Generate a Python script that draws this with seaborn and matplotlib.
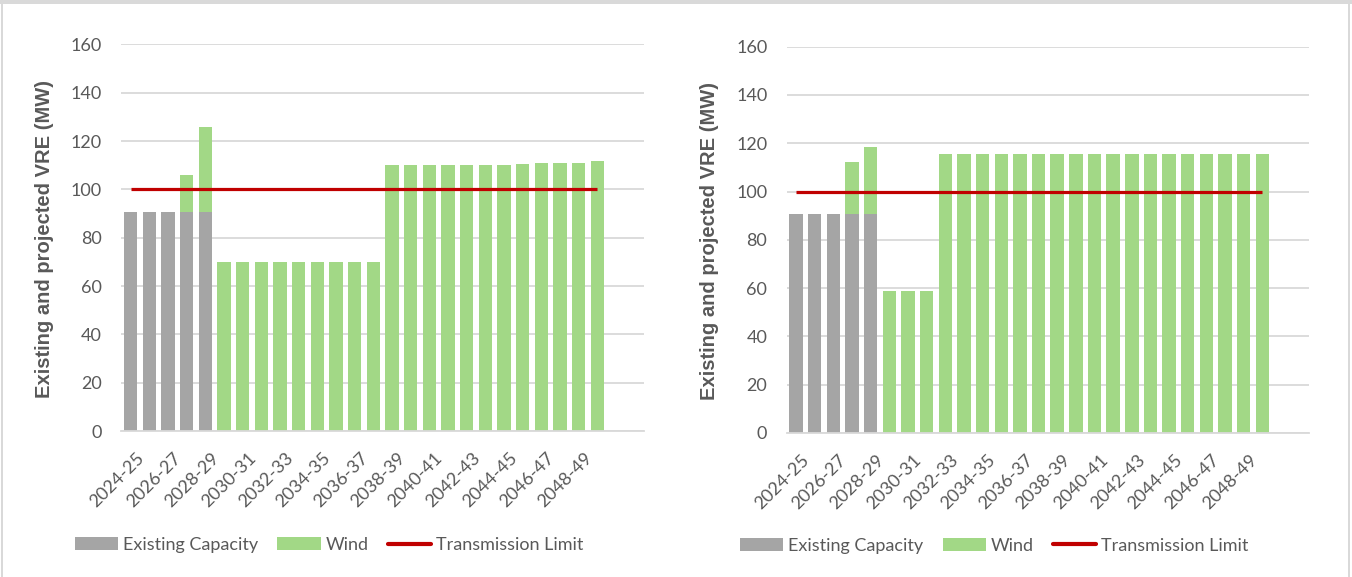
import numpy as np
import pandas as pd
import seaborn as sns
import matplotlib
matplotlib.use("Agg")
import matplotlib.pyplot as plt
from matplotlib.patches import Patch, Rectangle
from matplotlib.lines import Line2D
from matplotlib.transforms import ScaledTranslation

# ---- data -------------------------------------------------------------
years = ["2024-25", "2025-26", "2026-27", "2027-28", "2028-29", "2029-30",
         "2030-31", "2031-32", "2032-33", "2033-34", "2034-35", "2035-36",
         "2036-37", "2037-38", "2038-39", "2039-40", "2040-41", "2041-42",
         "2042-43", "2043-44", "2044-45", "2045-46", "2046-47", "2047-48",
         "2048-49", "2049-50"]

left_existing = [90.5, 90.5, 90.5, 90.5, 90.5, 0, 0, 0, 0, 0, 0, 0, 0,
                 0, 0, 0, 0, 0, 0, 0, 0, 0, 0, 0, 0, 0]
left_wind = [0, 0, 0, 15.5, 35.3, 70, 70, 70, 70, 70, 70, 70, 70, 70,
             110.2, 110.2, 110.2, 110.2, 110.2, 110.2, 110.2, 110.5,
             110.9, 110.9, 110.9, 111.9]

right_existing = [90.5, 90.5, 90.5, 90.5, 90.5, 0, 0, 0, 0, 0, 0, 0, 0,
                  0, 0, 0, 0, 0, 0, 0, 0, 0, 0, 0, 0, 0]
right_wind = [0, 0, 0, 21.8, 28.0, 58.8, 58.8, 58.8, 115.4, 115.4, 115.4,
              115.4, 115.4, 115.4, 115.4, 115.4, 115.4, 115.4, 115.4, 115.4,
              115.4, 115.6, 115.6, 115.6, 115.6, 115.6]

transmission_limit = [100] * 26

tick_years = years[::2]
y_ticks = [0, 20, 40, 60, 80, 100, 120, 140, 160]

ylabel_text = "Existing and projected VRE (MW)"
legend_labels = ["Existing Capacity", "Wind", "Transmission Limit"]

# ---- style ------------------------------------------------------------
GREY = "#A5A5A5"
GREEN = "#A2D886"
RED = "#C00000"
GRID = "#D9D9D9"
TEXT = "#595959"

sns.set_style("white")
plt.rcParams["font.family"] = ["Lato", "DejaVu Sans"]

fig = plt.figure(figsize=(13.52, 5.77), dpi=100)
fig.patch.set_facecolor("white")
label_shift = ScaledTranslation(0.05, 0, fig.dpi_scale_trans)


def draw_panel(ax, existing, wind):
    df = pd.DataFrame({"year": years,
                       "existing": existing,
                       "total": np.add(existing, wind)})
    # stacked look: full stack in green, existing capacity on top in grey
    sns.barplot(data=df, x="year", y="total", order=years, color=GREEN,
                saturation=1, width=0.72, errorbar=None, ax=ax,
                linewidth=0)
    sns.barplot(data=df, x="year", y="existing", order=years, color=GREY,
                saturation=1, width=0.72, errorbar=None, ax=ax,
                linewidth=0)
    sns.lineplot(x=np.arange(len(years)), y=transmission_limit, ax=ax,
                 color=RED, linewidth=2.3, solid_capstyle="butt")

    ax.set_xlim(-0.5, 27.5)
    ax.set_ylim(0, 160)
    ax.set_yticks(y_ticks)
    ax.set_yticklabels([str(v) for v in y_ticks])
    ax.set_xticks(np.arange(0, len(years), 2))
    ax.set_xticklabels(tick_years, rotation=45, ha="right",
                       rotation_mode="anchor")
    ax.tick_params(axis="both", length=0, colors=TEXT, labelsize=13)
    ax.tick_params(axis="y", pad=14)
    ax.tick_params(axis="x", pad=13.5)
    for lab in ax.get_xticklabels():
        lab.set_transform(lab.get_transform() + label_shift)

    ax.grid(axis="y", color=GRID, linewidth=1.3)
    ax.set_axisbelow(True)
    for side in ["top", "right", "left"]:
        ax.spines[side].set_visible(False)
    ax.spines["bottom"].set_color(GRID)
    ax.spines["bottom"].set_linewidth(1.3)

    ax.set_xlabel("")
    ax.set_ylabel(ylabel_text, fontsize=14.5, fontweight="bold", color=TEXT,
                  family="Liberation Sans")


ax1 = fig.add_axes([0.0898, 0.2530, 0.3865, 0.6701])
ax2 = fig.add_axes([0.5819, 0.2496, 0.3863, 0.6696])
draw_panel(ax1, left_existing, left_wind)
draw_panel(ax2, right_existing, right_wind)

ax1.yaxis.set_label_coords(-0.129, 0.497)
ax2.yaxis.set_label_coords(-0.129, 0.497)

handles = [Patch(facecolor=GREY, edgecolor="none"),
           Patch(facecolor=GREEN, edgecolor="none"),
           Line2D([0], [0], color=RED, linewidth=3)]

for ax, anchor in [(ax1, (-0.0888, -0.295)), (ax2, (-0.0894, -0.292))]:
    leg = ax.legend(handles, legend_labels, loc="center left",
                    bbox_to_anchor=anchor, ncol=3, frameon=False,
                    fontsize=13, handlelength=2.4, handleheight=0.7,
                    handletextpad=0.28, columnspacing=1.05, borderpad=0,
                    borderaxespad=0)
    for t in leg.get_texts():
        t.set_color(TEXT)

# thin grey frame around the figure area
W, H = 1352, 577
frame_kw = dict(transform=fig.transFigure, facecolor=GRID, edgecolor="none")
fig.add_artist(Rectangle((0, 1 - 4 / H), 1, 4 / H, **frame_kw))
fig.add_artist(Rectangle((1 / W, 0), 2 / W, 1, **frame_kw))
fig.add_artist(Rectangle((1347.5 / W, 0), 2.5 / W, 1, **frame_kw))

fig.savefig("out.png", dpi=100, facecolor="white")
